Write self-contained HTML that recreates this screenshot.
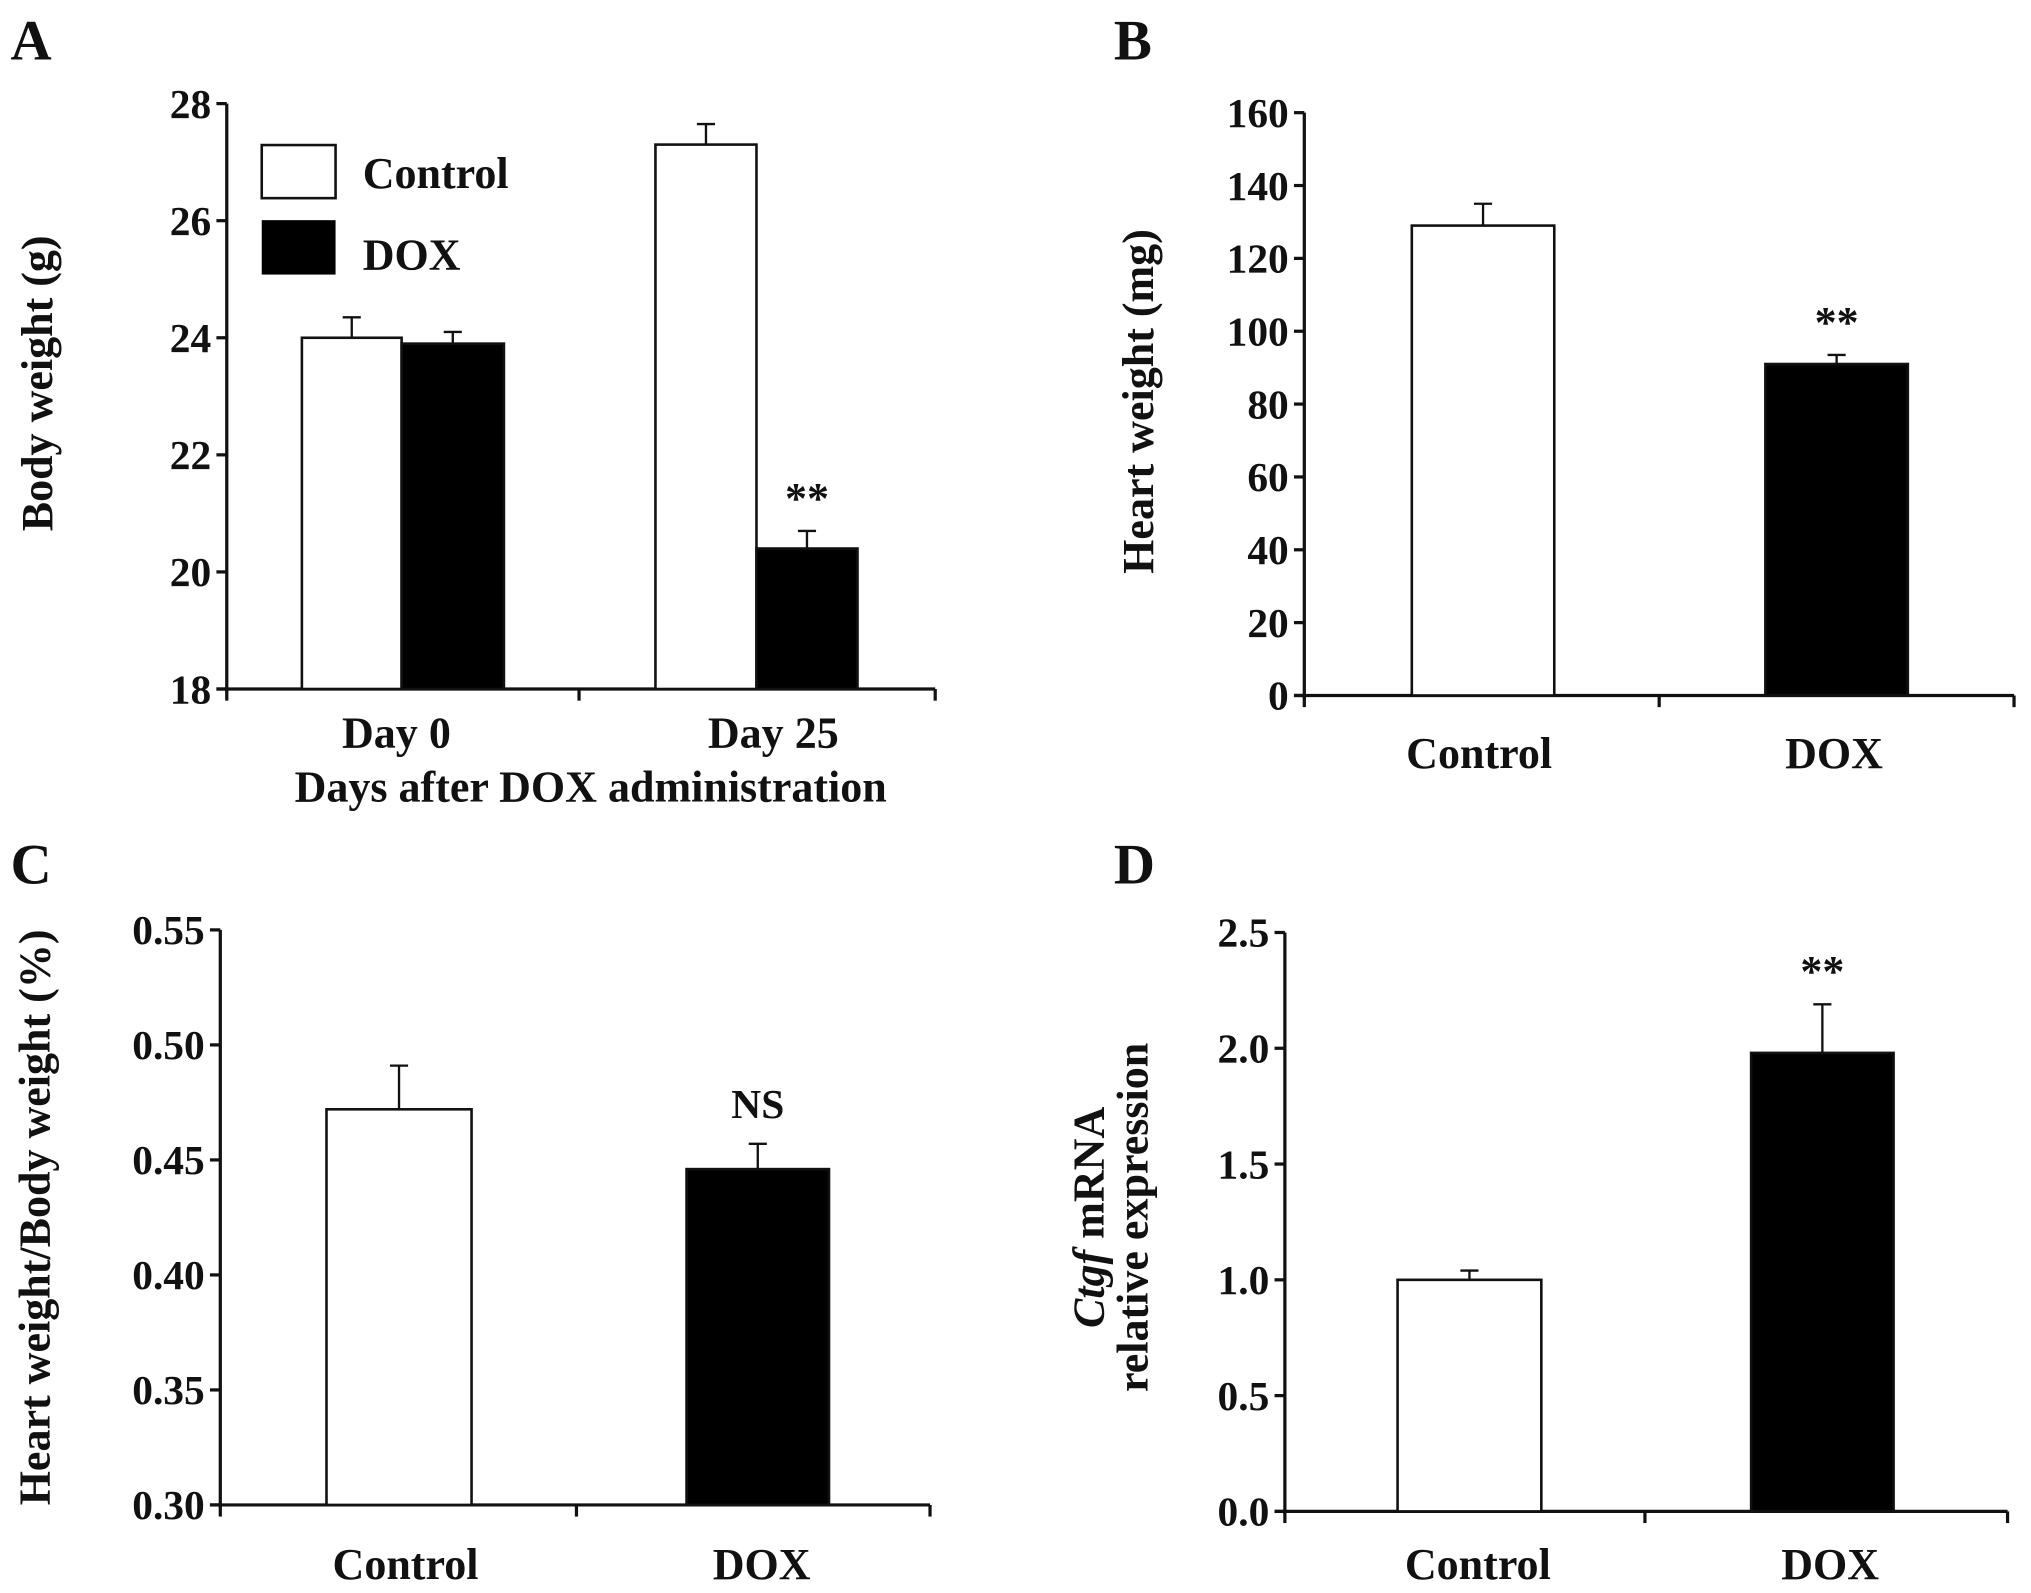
<!DOCTYPE html>
<html><head><meta charset="utf-8"><style>
html,body{margin:0;padding:0;background:#fff;}
svg{display:block;}
text{font-family:"Liberation Serif",serif;font-weight:bold;fill:#111;}
</style></head><body>
<svg id="fig" width="2031" height="1593" viewBox="0 0 1568 1230" xmlns="http://www.w3.org/2000/svg"></svg>
<script>
// Panel A data
const aCategories = ["Day 0", "Day 25"];
const aControl = [24.0, 27.3];
const aControlErr = [0.35, 0.35];
const aDox = [23.9, 20.4];
const aDoxErr = [0.2, 0.3];
const aTicks = [18, 20, 22, 24, 26, 28];
// Panel B data
const bCategories = ["Control", "DOX"];
const bValues = [129, 91];
const bErr = [6, 2.5];
const bTicks = [0, 20, 40, 60, 80, 100, 120, 140, 160];
// Panel C data
const cCategories = ["Control", "DOX"];
const cValues = [0.472, 0.446];
const cErr = [0.019, 0.011];
const cTicks = ["0.30", "0.35", "0.40", "0.45", "0.50", "0.55"];
// Panel D data
const dCategories = ["Control", "DOX"];
const dValues = [1.0, 1.98];
const dErr = [0.04, 0.21];
const dTicks = ["0.0", "0.5", "1.0", "1.5", "2.0", "2.5"];

const NS = "http://www.w3.org/2000/svg";
const svg = document.getElementById("fig");
function el(tag, attrs, parent, text) {
  const e = document.createElementNS(NS, tag);
  for (const k in attrs) e.setAttribute(k, attrs[k]);
  if (text !== undefined) e.textContent = text;
  (parent || svg).appendChild(e);
  return e;
}

function panel(o) {
  const g = el("g", {});
  
  
  const ymin = o.ymin, ymax = o.ymax;
  const y = v => o.y0 + (v - ymin) / (ymax - ymin) * (o.y1 - o.y0);
  const ya = el("line", {x1:o.x0, y1:o.y1, x2:o.x0, y2:o.y0+2, stroke:"#111", "stroke-width":2.5}, g);
  
  
  const xa = el("line", {x1:o.x0-8, y1:o.y0, x2:o.xEnd, y2:o.y0, stroke:"#111", "stroke-width":2.5}, g);
  
  
  [o.x0, o.xMid, o.xEnd].forEach(x => {
    el("line", {x1:x, y1:o.y0, x2:x, y2:o.y0+9, stroke:"#111", "stroke-width":2.5}, g);
  });
  o.ticks.forEach(t => {
    const v = parseFloat(t);
    el("line", {x1:o.x0-8, y1:y(v), x2:o.x0, y2:y(v), stroke:"#111", "stroke-width":2.5}, g);
    const tl = el("text", {x:o.x0-12, y:y(v)+11, "text-anchor":"end", "font-size":32}, g, String(t));
    
    
  });
  o.bars.forEach(b => {
    const top = y(b.v);
    const ey = y(b.v + b.e);
    const cx = (b.l + b.r) / 2;
    el("line", {x1:cx, y1:top, x2:cx, y2:ey, stroke:"#111", "stroke-width":1.8}, g);
    el("line", {x1:cx-7, y1:ey, x2:cx+7, y2:ey, stroke:"#111", "stroke-width":1.8}, g);
    const r = el("rect", {x:b.l, y:top, width:b.r-b.l, height:o.y0-top, fill:b.fill, stroke:"#111", "stroke-width":2}, g);
    
    
    if (b.mark) {
      const m = el("text", {x:cx, y:ey - (b.mark==="NS"?20:14), "text-anchor":"middle", "font-size": b.mark==="NS"?32:34, "font-weight": b.mark==="NS"?"bold":"normal"}, g, b.mark);
      
      
    }
  });
  o.xLabels.forEach(l => {
    const t = el("text", {x:l[0], y:l[1], "text-anchor":"middle", "font-size":34}, g, l[2]);
    
    
  });
  const pl = el("text", {x:o.label[0], y:o.label[1], "font-size":44}, g, o.label[2]);
  
  
  return {g, y};
}

const A = panel({name:"panel-a", x0:175, xMid:447, xEnd:722, y0:532, y1:80, ymin:18, ymax:28, ticks:aTicks,
  bars:[
    {l:233, r:310, v:aControl[0], e:aControlErr[0], fill:"#fff", name:"bar-control-day0"},
    {l:310, r:389, v:aDox[0], e:aDoxErr[0], fill:"#000", name:"bar-dox-day0"},
    {l:506, r:584, v:aControl[1], e:aControlErr[1], fill:"#fff", name:"bar-control-day25"},
    {l:584, r:662, v:aDox[1], e:aDoxErr[1], fill:"#000", name:"bar-dox-day25", mark:"**"}],
  xLabels:[[306,577,aCategories[0]],[597,577,aCategories[1]]], label:[8,46,"A"]});
const at = el("text", {x:456, y:619, "text-anchor":"middle", "font-size":34}, A.g, "Days after DOX administration");


const ayt = el("text", {x:0, y:0, transform:"translate(40,296) rotate(-90)", "text-anchor":"middle", "font-size":34}, A.g, "Body weight (g)");


const lg1 = el("rect", {x:202, y:112, width:57, height:41, fill:"#fff", stroke:"#111", "stroke-width":2}, A.g);


const lt1 = el("text", {x:280, y:145, "font-size":34}, A.g, "Control");


const lg2 = el("rect", {x:202, y:170, width:57, height:42, fill:"#000"}, A.g);


const lt2 = el("text", {x:280, y:208, "font-size":34}, A.g, "DOX");



const B = panel({name:"panel-b", x0:1007, xMid:1281, xEnd:1555, y0:537, y1:87, ymin:0, ymax:160, ticks:bTicks,
  bars:[
    {l:1090, r:1200, v:bValues[0], e:bErr[0], fill:"#fff", name:"bar-control"},
    {l:1363, r:1473, v:bValues[1], e:bErr[1], fill:"#000", name:"bar-dox", mark:"**"}],
  xLabels:[[1142,593,bCategories[0]],[1416,593,bCategories[1]]], label:[860,46,"B"]});
const byt = el("text", {x:0, y:0, transform:"translate(890,310) rotate(-90)", "text-anchor":"middle", "font-size":34}, B.g, "Heart weight (mg)");



const C = panel({name:"panel-c", x0:170, xMid:445, xEnd:718, y0:1162, y1:718, ymin:0.30, ymax:0.55, ticks:cTicks,
  bars:[
    {l:252, r:364, v:cValues[0], e:cErr[0], fill:"#fff", name:"bar-control"},
    {l:530, r:640, v:cValues[1], e:cErr[1], fill:"#000", name:"bar-dox", mark:"NS"}],
  xLabels:[[313,1219,cCategories[0]],[588,1219,cCategories[1]]], label:[8,682,"C"]});
const cyt = el("text", {x:0, y:0, transform:"translate(38,940) rotate(-90)", "text-anchor":"middle", "font-size":34}, C.g, "Heart weight/Body weight (%)");



const D = panel({name:"panel-d", x0:992, xMid:1270, xEnd:1550, y0:1167, y1:720, ymin:0, ymax:2.5, ticks:dTicks,
  bars:[
    {l:1079, r:1190, v:dValues[0], e:dErr[0], fill:"#fff", name:"bar-control"},
    {l:1352, r:1462, v:dValues[1], e:dErr[1], fill:"#000", name:"bar-dox", mark:"**"}],
  xLabels:[[1141,1219,dCategories[0]],[1413,1219,dCategories[1]]], label:[860,682,"D"]});
const dyt = el("text", {x:0, y:0, transform:"translate(852,940) rotate(-90)", "text-anchor":"middle", "font-size":34}, D.g);


el("tspan", {"font-style":"italic"}, dyt, "Ctgf");
el("tspan", {}, dyt, " mRNA");
const dyt2 = el("text", {x:0, y:0, transform:"translate(886,940) rotate(-90)", "text-anchor":"middle", "font-size":34}, D.g, "relative expression");


</script>
</body></html>
